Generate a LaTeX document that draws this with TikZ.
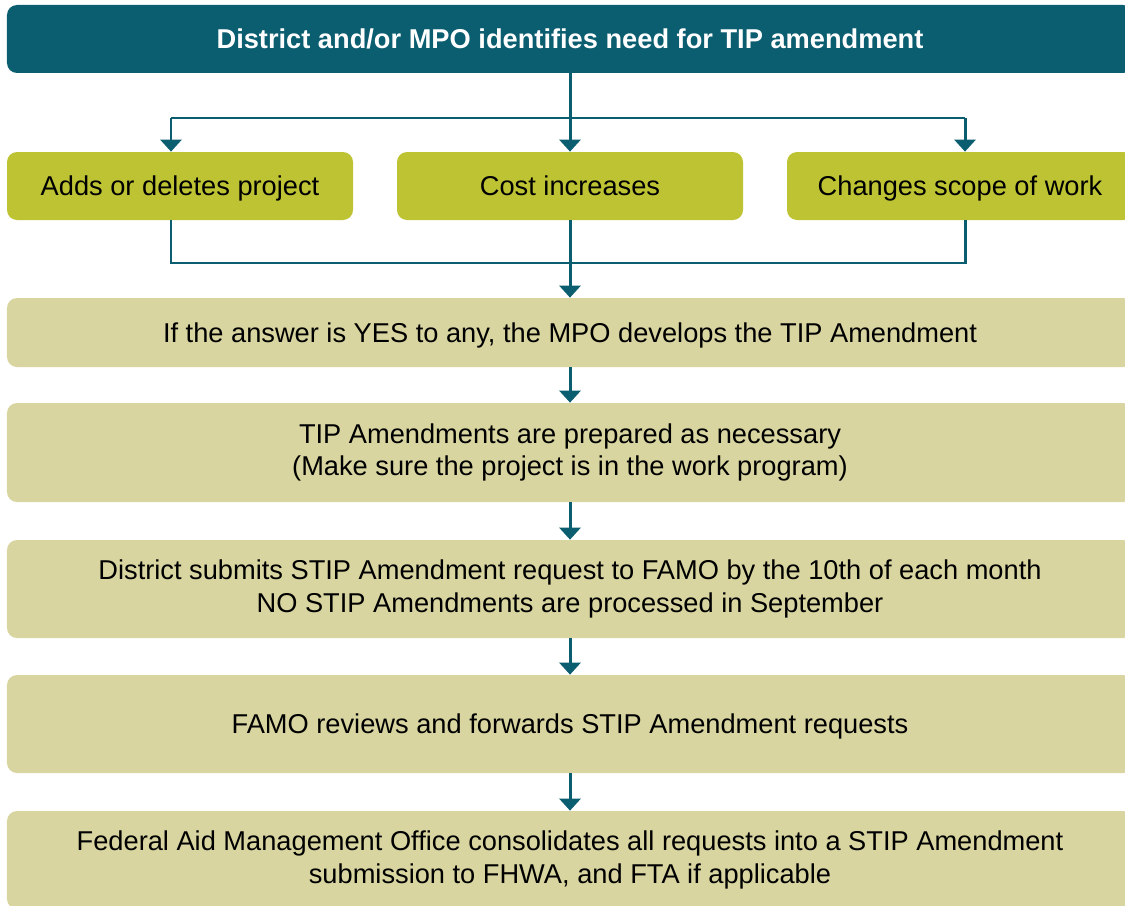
\documentclass[tikz,border=0pt]{standalone}
\usepackage{fontspec}
\setmainfont{Liberation Sans}
\usetikzlibrary{arrows.meta}

\definecolor{teal}{RGB}{11,93,112}
\definecolor{olive}{RGB}{190,195,52}
\definecolor{sand}{RGB}{216,213,160}

\begin{document}
\begin{tikzpicture}[
  box/.style={rectangle, rounded corners=0.2cm, inner sep=0pt, align=center,
    font=\fontsize{15.5}{18.7}\selectfont},
  oneline/.style={text height=11.1pt, text depth=0pt},
  headbox/.style={box, oneline, fill=teal, text=white, minimum width=22.52cm, minimum height=1.36cm,
    font=\fontsize{15.5}{18.7}\selectfont\bfseries},
  choice/.style={box, oneline, fill=olive, minimum width=6.92cm, minimum height=1.36cm},
  stepbox/.style={box, fill=sand, minimum width=22.52cm},
  link/.style={draw=teal, line width=1.7pt},
  arrow/.style={link, -{Triangle[width=0.42cm,length=0.24cm]}}
]

\useasboundingbox (0,0) rectangle (22.5,-18.1);
\clip (0,0) rectangle (22.5,-18.1);

\node[headbox] (top) at (11.4,-0.78) {District and/or MPO identifies need for TIP amendment};

\node[choice] (add) at (3.6,-3.72) {Adds or deletes project};
\node[choice] (cost) at (11.4,-3.72) {Cost increases};
\node[choice] (change) at (19.2,-3.72) {Changes scope of work};

\node[stepbox, oneline, minimum height=1.38cm] (answer) at (11.4,-6.65) {If the answer is YES to any, the MPO develops the TIP Amendment};
\node[stepbox, minimum height=1.98cm] (prep) at (11.4,-9.05) {TIP Amendments are prepared as necessary\\(Make sure the project is in the work program)};
\node[stepbox, minimum height=1.96cm] (submit) at (11.4,-11.78) {District submits STIP Amendment request to FAMO by the 10th of each month\\NO STIP Amendments are processed in September};
\node[stepbox, oneline, minimum height=1.96cm] (review) at (11.4,-14.48) {FAMO reviews and forwards STIP Amendment requests};
\node[stepbox, minimum height=1.96cm] (famo) at (11.4,-17.2) {Federal Aid Management Office consolidates all requests into a STIP Amendment\\submission to FHWA, and FTA if applicable};

\coordinate (split) at (11.4,-2.36);
\coordinate (splitL) at (3.42,-2.36);
\coordinate (splitR) at (19.3,-2.36);
\coordinate (mergeL) at (3.42,-5.26);
\coordinate (mergeR) at (19.3,-5.26);

\draw[link] (top) -- (split);
\draw[link] (splitL) -- (splitR);
\draw[arrow] (split) -- (cost);
\draw[arrow] (splitL) -- (splitL |- add.north);
\draw[arrow] (splitR) -- (splitR |- change.north);

\draw[link] (splitL |- add.south) -- (mergeL) -- (mergeR) -- (splitR |- change.south);
\draw[arrow] (cost) -- (answer);
\draw[arrow] (answer) -- (prep);
\draw[arrow] (prep) -- (submit);
\draw[arrow] (submit) -- (review);
\draw[arrow] (review) -- (famo);
\end{tikzpicture}
\end{document}
